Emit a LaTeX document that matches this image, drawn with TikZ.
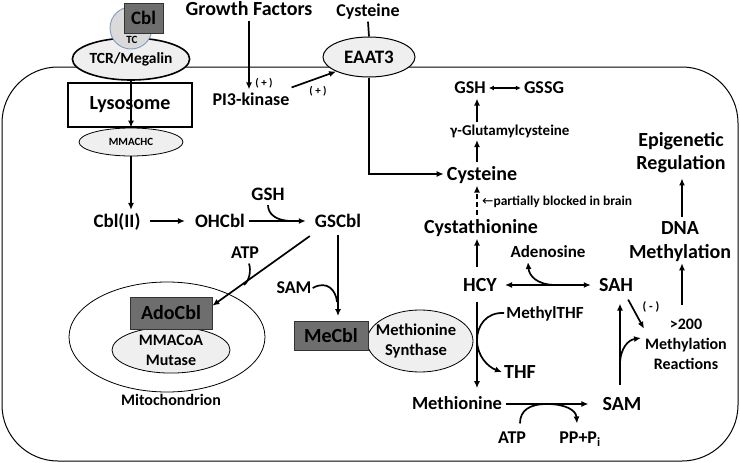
\documentclass[tikz,border=0pt]{standalone}
\usepackage{fontspec}
\setmainfont{Carlito}
\newfontfamily\arrowfont{DejaVu Sans}
\usetikzlibrary{arrows.meta,shapes.geometric}
\definecolor{boxgray}{HTML}{6E6E6E}
\definecolor{ellgray}{HTML}{EFEFEF}
\definecolor{tcgray}{HTML}{DADADA}
\definecolor{tcblue}{HTML}{7F9DC2}
\begin{document}
\begin{tikzpicture}[x=1pt,y=-1pt,
  t/.style 2 args={font=\bfseries\fontsize{#1}{#2}\selectfont},
  lbl/.style={t={#1}{#1}, inner sep=1pt, text height={0.84*#1pt}, text depth={0.2*#1pt}},
  lbl/.default=19,
  ml/.style 2 args={t={#1}{#2}, inner sep=1pt, align=center},
  arr/.style={-{Latex[length=7pt,width=6pt]}, line width=1.7pt},
  ln/.style={line width=1.7pt},
  graybox/.style={draw=black!80, fill=boxgray, line width=0.8pt, inner sep=0pt},
  lightell/.style={ellipse, draw, fill=ellgray, line width=0.8pt, inner sep=0pt}
]
\useasboundingbox (0,0) rectangle (740,463);
% cell membrane
\draw[line width=1pt, rounded corners=56pt] (2,67) rectangle (738,461);

% receptor / Cbl
\node[lightell, line width=1.6pt, minimum width=104pt, minimum height=42pt, t={15.5}{18}] (tcr) at (131,59) {\raisebox{-2pt}{TCR/Megalin}};
\node[circle, draw=tcblue, fill=tcgray, line width=0.9pt, minimum size=42pt, inner sep=0pt] (tc) at (131,28) {};
\node[t={11}{12}, inner sep=0pt] (tclbl) at (132,40) {TC};
\node[graybox, minimum width=39pt, minimum height=30pt, t={19}{22}] (cbl) at (143.5,18) {Cbl};

% lysosome
\node[draw, line width=2.4pt, fill=white, minimum width=124pt, minimum height=44pt, t={20}{24}] (lys) at (130,105) {Lysosome};
\node[lightell, minimum width=104pt, minimum height=28pt, t={11}{12}] (mmachc) at (131,142) {MMACHC};
\draw[arr] (tcr.south) -- (mmachc.north);

% growth factors, PI3K, EAAT3
\node[lbl=20] (gf) at (249,9) {Growth Factors};
\node[lbl=18] (pi3) at (251,100) {PI3-kinase};
\node[lbl=18] (cys1) at (368,11) {Cysteine};
\node[lightell, line width=1pt, minimum width=92pt, minimum height=40pt, t={19}{22}] (eaat3) at (369,57) {EAAT3};
\draw[ln] (cys1.south) -- (eaat3.north);
\draw[arr] (gf.south) -- (gf.south |- pi3.north);
\draw[arr] ([xshift=1pt,yshift=2pt]pi3.north east) -- (eaat3.south west);
\node[t={11}{12}] (plus1) at (264,83) {( + )};
\node[t={11}{12}] (plus2) at (318,91) {( + )};

% cobalamin processing
\node[lbl=19] (cbl2) at (117,221) {Cbl(II)};
\node[lbl=19] (ohcbl) at (220,221) {OHCbl};
\node[lbl=19] (gscbl) at (338,221) {GSCbl};
\node[lbl=19] (gsh1) at (268,194) {GSH};
\node[lbl=18] (atp1) at (245,253) {ATP};
\node[lbl=18] (sam1) at (294,288) {SAM};
\draw[arr] (mmachc.south) -- (mmachc.south |- cbl2.north);
\draw[arr] ([xshift=8pt]cbl2.east) -- ([xshift=-9pt]ohcbl.west);
\draw[arr] ([xshift=3pt]ohcbl.east) -- ([xshift=-8pt]gscbl.west);
\coordinate (j1) at (292,221);
\draw[ln] (gsh1.south) .. controls (268,214) and (276,221) .. (j1);

% mitochondrion
\node[ellipse, draw, line width=0.8pt, fill=white, minimum width=196pt, minimum height=110pt, inner sep=0pt] (mito) at (167,337) {};
\node[lightell, minimum width=118pt, minimum height=44pt, ml={16}{20}] (mut) at (171,350) {MMACoA\\Mutase};
\node[graybox, minimum width=82pt, minimum height=32pt, t={20}{24}] (adocbl) at (171,313) {AdoCbl};
\node[lbl=16] (mitolbl) at (171,400) {Mitochondrion};
\draw[arr] ([shift={(-4pt,-4pt)}]gscbl.south west) -- (adocbl.10);
\coordinate (j2) at (244,285);
\draw[ln] ([xshift=4pt]atp1.south) .. controls (251,270) and (250,280) .. (j2);

% methionine synthase
\node[lightell, minimum width=106pt, minimum height=62pt, ml={16.5}{20}] (ms) at (420,341) {\hspace*{-8pt}Methionine\\\hspace*{-8pt}Synthase};
\node[graybox, minimum width=74pt, minimum height=29pt, t={20}{24}] (mecbl) at (331,336) {MeCbl};
\draw[arr, shorten >=5pt] ([yshift=-3pt]gscbl.south) -- (gscbl.south |- mecbl.north);
\coordinate (j3) at (337,302);
\draw[ln] (sam1.east) .. controls (327,280) and (336,290) .. (j3);

% transsulfuration
\coordinate (colx) at (477,0);
\node[lbl=18] (gsh2) at (470,88) {GSH};
\node[lbl=18] (gssg) at (544,88) {GSSG};
\node[lbl=15] (gglu) at (510,131) {γ-Glutamylcysteine};
\node[lbl=20] (cys2) at (482,174) {Cysteine};
\node[lbl=20] (cysta) at (481,227) {Cystathionine};
\node[lbl=20] (hcy) at (480,285) {HCY};
\node[lbl=17] (adeno) at (548,252) {Adenosine};
\node[lbl=20] (sah) at (616,285) {SAH};
\node[anchor=west, t={13.5}{15}, inner sep=0pt] (blk) at (482,202) {{\arrowfont\mdseries ←}partially blocked in brain};
\draw[{Latex[length=5pt,width=5pt]}-{Latex[length=5pt,width=5pt]}, ln] ([xshift=2pt]gsh2.east) -- ([xshift=-2pt]gssg.west);
\draw[arr] (cys2.north -| colx) -- (gglu.south -| colx);
\draw[arr] (gglu.north -| colx) -- (gsh2.south -| colx);
\draw[arr, dash pattern=on 5pt off 3pt] (cysta.north -| colx) -- (cys2.south -| colx);
\draw[arr, shorten <=6pt] (hcy.north -| colx) -- (cysta.south -| colx);
\draw[arr] (eaat3.south) |- ([xshift=-2pt]cys2.west);
\draw[{Latex[length=7pt,width=6pt]}-{Latex[length=7pt,width=6pt]}, line width=1.7pt] ([xshift=7pt]hcy.east) -- ([xshift=-7pt]sah.west);
\coordinate (j4) at (556,285);
\draw[arr] (j4) .. controls (536,285) and (529,275) .. ([xshift=-20pt]adeno.south);

% methionine cycle
\node[lbl=18.5] (meth) at (457,404) {Methionine};
\node[lbl=20] (sam2) at (622,404) {SAM};
\node[lbl=17] (mthf) at (545,313) {MethylTHF};
\node[lbl=20] (thf) at (520,372) {THF};
\node[lbl=18] (atp2) at (512,438) {ATP};
\node[lbl=18] (pppi) at (580,438) {PP+P\textsubscript{i}};
\draw[arr, shorten <=5pt, shorten >=5pt] (hcy.south -| colx) -- (meth.north -| colx);
\coordinate (j7) at (477,340);
\draw[arr] ([xshift=-1pt]mthf.west) .. controls (486,312) and (477,326) .. (j7) .. controls (477,356) and (488,367) .. ([xshift=-1pt]thf.west);
\draw[arr, shorten >=13pt] ([xshift=3pt]meth.east) -- (sam2.west);
\coordinate (j6) at (547,404);
\draw[ln] ([xshift=8pt,yshift=4pt]atp2.north) .. controls (520,410) and (530,404) .. (j6);
\draw[arr] (j6) .. controls (565,404) and (576,410) .. ([xshift=-3pt,yshift=4pt]pppi.north);

% methylation
\coordinate (colsah) at (620,0);
\coordinate (dcol) at (682,0);
\node[ml={20}{23}] (epi) at (681,153) {Epigenetic\\Regulation};
\node[ml={20}{24}] (dna) at (680,242) {DNA\\Methylation};
\node[ml={16}{20}] (m200) at (686,344) {>200\\Methylation\\Reactions};
\node[t={12}{13}] (minus) at (651,307) {( - )};
\draw[arr, shorten <=7pt, shorten >=7pt] (sam2.north -| colsah) -- (sah.south -| colsah);
\draw[arr] ([shift={(-6pt,-3pt)}]sah.south east) -- (m200.160);
\coordinate (j5) at (620,362);
\draw[arr] (j5) .. controls (621,348) and (628,340) .. ([xshift=-3pt,yshift=6pt]m200.west);
\draw[arr, shorten <=12pt] (m200.north -| dcol) -- (dna.south -| dcol);
\draw[arr, shorten <=4pt, shorten >=4pt] (dna.north -| dcol) -- (epi.south -| dcol);
\end{tikzpicture}
\end{document}
